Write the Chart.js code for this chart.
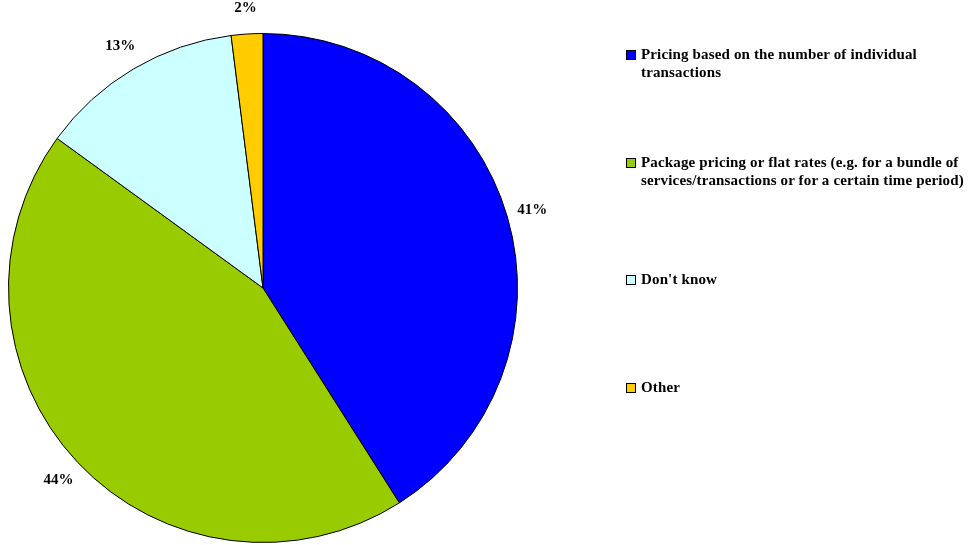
<!DOCTYPE html>
<html lang="en">
<head>
  <meta charset="UTF-8">
  <title>Pricing models</title>
  <script src="https://cdn.jsdelivr.net/npm/chart.js"></script>
  <style>
    html, body { margin: 0; padding: 0; background: #fff; }
    #wrap { position: relative; width: 971px; height: 545px; }
    #legend {
      position: absolute; left: 626px; top: 9px; width: 345px;
      font-family: "Liberation Serif", "Times New Roman", serif;
      font-weight: bold; font-size: 15px; letter-spacing: 0.15px; line-height: 18px; color: #000;
    }
    .item { height: 108px; display: flex; align-items: center; }
    .item .row { display: flex; align-items: flex-start; }
    .box { width: 8px; height: 8px; border: 1px solid #000; margin: 5px 5px 0 0; flex: none; }
  </style>
</head>
<body>
  <div id="wrap">
    <canvas id="pie" width="971" height="545"></canvas>
    <div id="legend"></div>
  </div>

  <script>
    // categories and shares (percent)
    const categorias = [
      'Pricing based on the number of individual transactions',
      'Package pricing or flat rates (e.g. for a bundle of services/transactions or for a certain time period)',
      "Don't know",
      'Other'
    ];
    const valores = [41, 44, 13, 2];
    const colores = ['#0000FF', '#99CC00', '#CCFFFF', '#FFCC00'];

    // legend built as html so long labels wrap
    const legend = document.getElementById('legend');
    categorias.forEach((c, i) => {
      const item = document.createElement('div');
      item.className = 'item';
      item.innerHTML = '<div class="row"><span class="box" style="background:' + colores[i] +
        '"></span><span>' + c + '</span></div>';
      legend.appendChild(item);
    });

    // percentage labels outside each slice
    const etiquetas = {
      id: 'etiquetas',
      afterDatasetsDraw(chart) {
        const ctx = chart.ctx;
        const meta = chart.getDatasetMeta(0);
        ctx.save();
        ctx.font = 'bold 15px "Liberation Serif", "Times New Roman", serif';
        ctx.fillStyle = '#000';
        ctx.textAlign = 'center';
        ctx.textBaseline = 'middle';
        meta.data.forEach((arc, i) => {
          const mid = (arc.startAngle + arc.endAngle) / 2;
          const r = arc.outerRadius + 26;
          ctx.fillText(valores[i] + '%', arc.x + Math.cos(mid) * r, arc.y + Math.sin(mid) * r);
        });
        ctx.restore();
      }
    };

    new Chart(document.getElementById('pie').getContext('2d'), {
      type: 'pie',
      data: {
        labels: categorias,
        datasets: [{
          data: valores,
          backgroundColor: colores,
          borderColor: '#000',
          borderWidth: 1,
          hoverOffset: 0
        }]
      },
      options: {
        responsive: false,
        animation: false,
        layout: { padding: { left: 8, right: 453, top: 33, bottom: 2 } },
        plugins: {
          legend: { display: false },
          tooltip: { enabled: false }
        }
      },
      plugins: [etiquetas]
    });
  </script>
</body>
</html>
